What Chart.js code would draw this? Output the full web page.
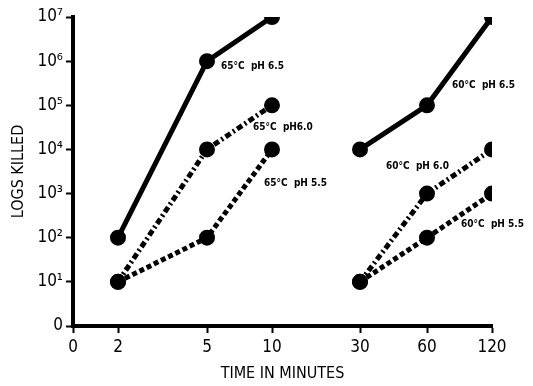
<!DOCTYPE html>
<html>
<head>
<meta charset="utf-8">
<script src="https://cdn.jsdelivr.net/npm/chart.js@4/dist/chart.umd.min.js"></script>
<style>
  html, body { margin: 0; padding: 0; background: #fff; }
  #wrap { width: 533px; height: 386px; }
</style>
</head>
<body>
<div id="wrap"><canvas id="chart" width="533" height="386"></canvas></div>
<script>
// time axis: labels and where each one sits along the (unevenly spaced) axis
const timeLabels = ['0', '2', '5', '10', '30', '60', '120'];
const timePos = [0, 45, 134, 199, 287, 354, 419];

// log10 of organisms killed
const logTicks = ['0', '10¹', '10²', '10³', '10⁴', '10⁵', '10⁶', '10⁷'];

const times65 = ['2', '5', '10'];
const times60 = ['30', '60', '120'];

const k65ph65 = [2, 6, 7];
const k65ph60 = [1, 4, 5];
const k65ph55 = [1, 2, 4];
const k60ph65 = [4, 5, 7];
const k60ph60 = [1, 3, 4];
const k60ph55 = [1, 2, 3];

const seriesLabels = ['65°C  pH 6.5', '65°C  pH6.0', '65°C  pH 5.5', '60°C  pH 6.5', '60°C  pH 6.0', '60°C  pH 5.5'];

function pts(times, vals) {
    return times.map((t, i) => ({ x: timePos[timeLabels.indexOf(t)], y: vals[i] }));
}

const solid = [];
const dashDot = [6, 3, 2, 3];
const dashed = [5, 3];

function ds(label, data, dash) {
    return {
        label: label,
        data: data,
        borderColor: '#000',
        backgroundColor: '#000',
        borderWidth: 5,
        borderDash: dash,
        pointRadius: 5.5,
        pointHoverRadius: 5.5,
        tension: 0
    };
}

// where the series names are written (axis units)
const notes = [
    { text: seriesLabels[0], x: 148, y: 5.89 },
    { text: seriesLabels[1], x: 180, y: 4.51 },
    { text: seriesLabels[2], x: 191, y: 3.24 },
    { text: seriesLabels[3], x: 379, y: 5.44 },
    { text: seriesLabels[4], x: 313, y: 3.62 },
    { text: seriesLabels[5], x: 388, y: 2.31 }
];

const notePlugin = {
    id: 'notes',
    afterDatasetsDraw(chart) {
        const ctx = chart.ctx;
        const xs = chart.scales.x, ys = chart.scales.y;
        ctx.save();
        ctx.fillStyle = '#000';
        ctx.font = 'bold 10px "DejaVu Sans Condensed", "DejaVu Sans", sans-serif';
        ctx.textBaseline = 'middle';
        notes.forEach(n => {
            ctx.fillText(n.text, xs.getPixelForValue(n.x), ys.getPixelForValue(n.y));
        });
        ctx.restore();
    }
};

const tickFont = { family: '"DejaVu Sans Condensed", "Liberation Sans Narrow", sans-serif', size: 17 };

new Chart(document.getElementById('chart'), {
    type: 'line',
    data: {
        datasets: [
            ds(seriesLabels[0], pts(times65, k65ph65), solid),
            ds(seriesLabels[1], pts(times65, k65ph60), dashDot),
            ds(seriesLabels[2], pts(times65, k65ph55), dashed),
            ds(seriesLabels[3], pts(times60, k60ph65), solid),
            ds(seriesLabels[4], pts(times60, k60ph60), dashDot),
            ds(seriesLabels[5], pts(times60, k60ph55), dashed)
        ]
    },
    options: {
        responsive: false,
        animation: false,
        events: [],
        layout: { padding: { top: 17, right: 41, left: 0, bottom: 0 } },
        plugins: {
            legend: { display: false },
            tooltip: { enabled: false }
        },
        scales: {
            x: {
                type: 'linear',
                min: 0,
                max: 419,
                afterBuildTicks: (scale) => {
                    scale.ticks = timePos.map(v => ({ value: v }));
                },
                afterFit: (scale) => { scale.height = 60; },
                ticks: {
                    autoSkip: false,
                    maxRotation: 0,
                    color: '#000',
                    font: tickFont,
                    padding: 4,
                    callback: (v) => timeLabels[timePos.indexOf(v)]
                },
                grid: { drawOnChartArea: false, drawTicks: true, tickLength: 7, tickWidth: 2, color: '#000' },
                border: { display: true, color: '#000', width: 4 },
                title: {
                    display: true,
                    text: 'TIME IN MINUTES',
                    color: '#000',
                    font: { family: tickFont.family, size: 16 },
                    padding: { top: 0, bottom: 3 }
                }
            },
            y: {
                type: 'linear',
                min: 0,
                max: 7,
                afterBuildTicks: (scale) => {
                    scale.ticks = logTicks.map((_, i) => ({ value: i }));
                },
                afterFit: (scale) => { scale.width = 73; },
                ticks: {
                    color: '#000',
                    font: tickFont,
                    padding: 3,
                    callback: (v) => logTicks[v]
                },
                grid: { drawOnChartArea: false, drawTicks: true, tickLength: 7, tickWidth: 2, color: '#000' },
                border: { display: true, color: '#000', width: 4 },
                title: {
                    display: true,
                    text: 'LOGS KILLED',
                    color: '#000',
                    font: { family: tickFont.family, size: 16 },
                    padding: { top: 9, bottom: 6 }
                }
            }
        }
    },
    plugins: [notePlugin]
});
</script>
</body>
</html>
